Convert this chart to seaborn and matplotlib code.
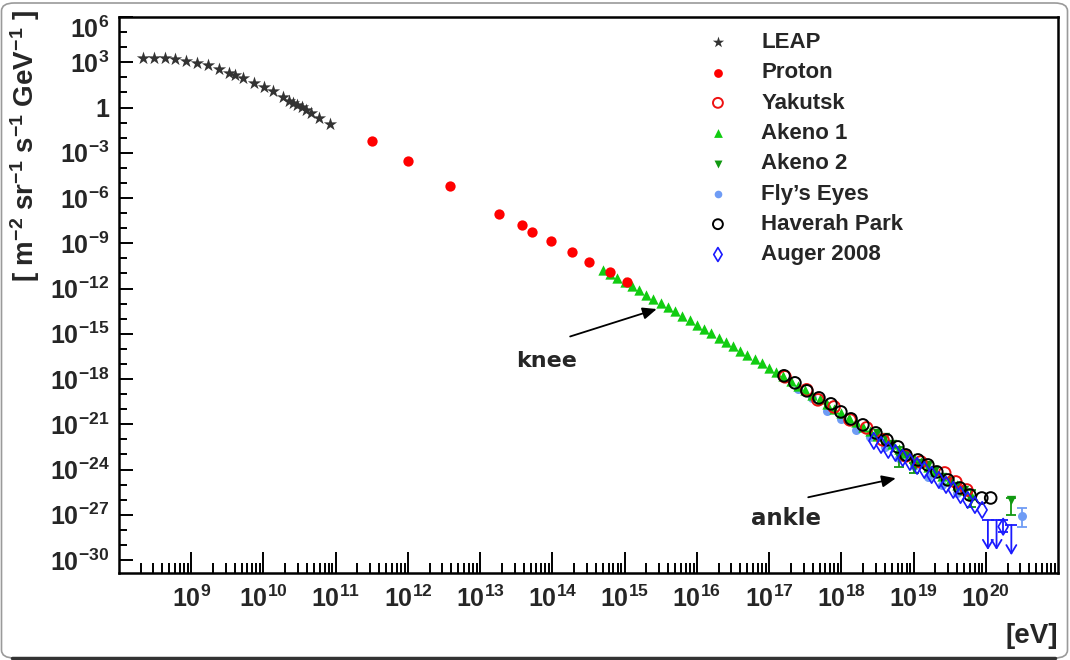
import matplotlib
matplotlib.use("Agg")
import matplotlib.pyplot as plt
import seaborn as sns
from matplotlib.ticker import FixedLocator, FixedFormatter, NullFormatter
from matplotlib.patches import FancyBboxPatch
from matplotlib.lines import Line2D

# ---------------- data (energy in eV, flux in m^-2 sr^-1 s^-1 GeV^-1) ----------------
leap_energy = [2.17e8, 3.04e8, 4.28e8, 5.93e8, 8.53e8, 1.21e9, 1.70e9, 2.41e9, 3.36e9,
               4.10e9, 5.24e9, 7.35e9, 1.01e10, 1.36e10, 1.87e10, 2.24e10, 2.58e10,
               2.95e10, 3.43e10, 3.94e10, 4.61e10, 5.82e10, 8.26e10]
leap_flux = [1950, 1980, 1960, 1760, 1300, 955, 673, 383, 198, 137, 86.9, 45.1, 23.4,
             11.9, 4.76, 2.88, 2.03, 1.40, 1.04, 0.728, 0.44, 0.214, 0.0857]

proton_energy = [3.18e11, 9.91e11, 3.85e12, 1.85e13, 3.74e13, 5.26e13, 9.42e13,
                 1.84e14, 3.20e14, 6.24e14, 1.07e15]
proton_flux = [5.73e-3, 2.70e-4, 5.92e-6, 9.14e-8, 1.70e-8, 5.83e-9, 1.33e-9,
               2.47e-10, 5.97e-11, 1.29e-11, 2.52e-12]

akeno1_energy = [5.01e14, 6.31e14, 7.94e14,
                 1.00e15, 1.26e15, 1.58e15, 2.00e15, 2.51e15, 3.16e15, 3.98e15, 5.01e15, 6.31e15, 7.94e15,
                 1.00e16, 1.26e16, 1.58e16, 2.00e16, 2.51e16, 3.16e16, 3.98e16, 5.01e16, 6.31e16, 7.94e16,
                 1.00e17, 1.26e17, 1.58e17, 2.00e17, 2.51e17, 3.16e17, 3.98e17, 5.01e17, 6.31e17, 7.94e17,
                 1.00e18, 1.26e18, 1.58e18, 2.00e18, 2.51e18, 3.16e18, 3.98e18, 5.01e18, 6.31e18, 7.94e18,
                 1.00e19, 1.26e19, 1.58e19, 2.00e19, 2.51e19, 3.16e19, 3.98e19, 5.01e19, 6.31e19]
akeno1_flux = [1.78e-11, 9.33e-12, 5.01e-12,
               2.63e-12, 1.41e-12, 7.41e-13, 3.98e-13, 2.09e-13, 1.12e-13, 5.75e-14, 3.02e-14, 1.55e-14, 7.94e-15,
               4.07e-15, 2.14e-15, 1.10e-15, 5.62e-16, 2.95e-16, 1.51e-16, 7.76e-17, 3.98e-17, 2.09e-17, 1.07e-17,
               5.50e-18, 2.88e-18, 1.48e-18, 7.41e-19, 3.63e-19, 1.82e-19, 9.12e-20, 4.47e-20, 2.24e-20, 1.10e-20,
               5.50e-21, 2.75e-21, 1.38e-21, 7.08e-22, 3.55e-22, 1.78e-22, 9.33e-23, 4.68e-23, 2.34e-23, 1.17e-23,
               6.03e-24, 3.02e-24, 1.51e-24, 7.59e-25, 3.80e-25, 1.91e-25, 9.55e-26, 4.47e-26, 2.00e-26]

haverah_energy = [1.61e17, 2.28e17, 3.34e17, 4.90e17, 7.18e17, 9.86e17, 1.36e18, 1.99e18,
                  3.01e18, 4.28e18, 6.07e18, 7.83e18, 1.15e19, 1.58e19, 2.10e19, 2.99e19,
                  4.38e19, 6.01e19, 8.81e19, 1.17e20]
haverah_flux = [1.63e-18, 5.57e-19, 1.64e-19, 5.62e-20, 2.25e-20, 6.62e-21, 2.28e-21, 9.10e-22,
                2.68e-22, 9.18e-23, 3.16e-23, 9.29e-24, 4.33e-24, 2.02e-24, 6.92e-25, 2.04e-25,
                6.00e-26, 2.06e-26, 1.30e-26, 1.30e-26]

yakutsk_energy = [1.66e17, 3.31e17, 4.75e17, 7.94e17, 1.32e18, 2.24e18, 3.77e18, 7.83e18,
                  1.26e19, 2.70e19, 3.85e19, 5.46e19]
yakutsk_flux = [1.40e-18, 1.91e-19, 4.15e-20, 1.41e-20, 1.95e-21, 5.75e-22, 9.20e-23, 8.0e-24,
                3.16e-24, 5.94e-25, 1.50e-25, 4.41e-26]

akeno2_energy = [3.16e18, 3.98e18, 5.01e18, 6.31e18, 7.94e18, 1.00e19, 1.26e19, 1.58e19,
                 2.00e19, 2.51e19, 3.16e19, 3.98e19, 5.01e19, 6.31e19, 2.24e20]
akeno2_flux = [2.69e-22, 1.45e-22, 5.01e-23, 6.92e-24, 9.33e-24, 1.29e-24, 2.75e-24, 2.00e-24,
               9.33e-25, 3.24e-25, 1.74e-25, 8.13e-26, 4.47e-26, 9.55e-27, 9.55e-27]
akeno2_err_energy = [6.31e18, 1.00e19, 6.31e19, 2.24e20]
akeno2_err_flux = [6.92e-24, 1.29e-24, 9.55e-27, 9.55e-27]
akeno2_err_low = [1.48e-24, 6.03e-25, 3.31e-27, 9.77e-28]
akeno2_err_high = [3.16e-23, 2.75e-24, 4.47e-26, 1.38e-26]

flyseye_energy = [2.51e17, 3.98e17, 6.31e17, 1.00e18, 1.58e18, 2.51e18, 3.98e18, 6.31e18,
                  1.00e19, 1.58e19, 2.51e19, 3.98e19, 3.21e20]
flyseye_flux = [2.24e-19, 5.75e-20, 7.76e-21, 2.29e-21, 4.27e-22, 1.45e-22, 3.16e-23, 5.89e-24,
                1.74e-24, 3.24e-25, 9.55e-26, 2.82e-26, 8.32e-28]
flyseye_err_energy = [3.21e20]
flyseye_err_flux = [8.32e-28]
flyseye_err_low = [1.58e-28]
flyseye_err_high = [2.82e-27]

auger_energy = [2.82e18, 3.55e18, 4.47e18, 5.62e18, 7.08e18, 8.91e18, 1.12e19, 1.41e19,
                1.78e19, 2.24e19, 2.82e19, 3.55e19, 4.47e19, 5.62e19, 7.08e19, 8.91e19, 1.74e20]
auger_flux = [7.94e-23, 4.27e-23, 2.00e-23, 1.26e-23, 5.89e-24, 3.16e-24, 1.74e-24, 9.33e-25,
              4.37e-25, 2.04e-25, 9.55e-26, 4.47e-26, 2.04e-26, 9.55e-27, 4.47e-27, 2.09e-27, 1.62e-28]
auger_err_energy = [1.74e20]
auger_err_flux = [1.62e-28]
auger_err_low = [7.59e-29]
auger_err_high = [4.47e-28]
auger_limit_energy = [1.07e20, 1.41e20, 2.26e20]
auger_limit_top = [4.47e-28, 4.47e-28, 2.1e-28]
auger_limit_bottom = [4.68e-30, 4.68e-30, 2.1e-30]

ytick_values = [1e6, 1e3, 1, 1e-3, 1e-6, 1e-9, 1e-12, 1e-15, 1e-18, 1e-21, 1e-24, 1e-27, 1e-30]
ytick_labels = [r'$10^{6}$', r'$10^{3}$', '1', r'$10^{-3}$', r'$10^{-6}$', r'$10^{-9}$',
                r'$10^{-12}$', r'$10^{-15}$', r'$10^{-18}$', r'$10^{-21}$', r'$10^{-24}$',
                r'$10^{-27}$', r'$10^{-30}$']
xtick_values = [1e9, 1e10, 1e11, 1e12, 1e13, 1e14, 1e15, 1e16, 1e17, 1e18, 1e19, 1e20]
xtick_labels = [r'$10^{9}$', r'$10^{10}$', r'$10^{11}$', r'$10^{12}$', r'$10^{13}$', r'$10^{14}$',
                r'$10^{15}$', r'$10^{16}$', r'$10^{17}$', r'$10^{18}$', r'$10^{19}$', r'$10^{20}$']

# ---------------- style ----------------
sns.set_theme(style="white")
plt.rcParams['font.family'] = ['Liberation Sans', 'DejaVu Sans']
plt.rcParams['font.weight'] = 'bold'
plt.rcParams['mathtext.fontset'] = 'custom'
plt.rcParams['mathtext.rm'] = 'Liberation Sans:bold'
plt.rcParams['mathtext.it'] = 'Liberation Sans:bold'
plt.rcParams['mathtext.bf'] = 'Liberation Sans:bold'
plt.rcParams['mathtext.sf'] = 'Liberation Sans:bold'

W, H = 1070, 660
fig = plt.figure(figsize=(W / 100, H / 100), dpi=100)
fig.patch.set_facecolor('white')
ax = fig.add_axes([119 / W, 1 - 573 / H, 939 / W, 556 / H])
ax.set_xscale('log')
ax.set_yscale('log')

# ---------------- series ----------------
sns.scatterplot(x=flyseye_energy, y=flyseye_flux, marker='o', s=42, color='#6f9cf5',
                linewidth=0, label="Fly\u2019s Eyes", ax=ax, zorder=3)
sns.scatterplot(x=akeno1_energy, y=akeno1_flux, marker='^', s=55, color='#11cc11',
                linewidth=0, label='Akeno 1', ax=ax, zorder=4)
sns.scatterplot(x=leap_energy, y=leap_flux, marker='*', s=100, color='#333333',
                linewidth=0, label='LEAP', ax=ax, zorder=4)
sns.scatterplot(x=proton_energy, y=proton_flux, marker='o', s=55, color='#ff0000',
                linewidth=0, label='Proton', ax=ax, zorder=5)
sns.scatterplot(x=akeno2_energy, y=akeno2_flux, marker='v', s=45, color='#119911',
                linewidth=0, label='Akeno 2', ax=ax, zorder=5)
sns.scatterplot(x=yakutsk_energy, y=yakutsk_flux, marker='o', s=70, facecolor='none',
                edgecolor='#ee1111', linewidth=1.4, label='Yakutsk', ax=ax, zorder=6)
sns.scatterplot(x=haverah_energy, y=haverah_flux, marker='o', s=70, facecolor='none',
                edgecolor='black', linewidth=1.4, label='Haverah Park', ax=ax, zorder=6)
sns.scatterplot(x=auger_energy, y=auger_flux, marker='d', s=70, facecolor='none',
                edgecolor='#1a1aff', linewidth=1.2, label='Auger 2008', ax=ax, zorder=7)

# error bars
def add_err(xs, ys, lo, hi, color):
    ax.errorbar(xs, ys, yerr=[[y - l for y, l in zip(ys, lo)], [h - y for y, h in zip(ys, hi)]],
                fmt='none', ecolor=color, elinewidth=1.3, capsize=3.5, capthick=1.3, zorder=5)

add_err(akeno2_err_energy, akeno2_err_flux, akeno2_err_low, akeno2_err_high, '#119911')
add_err(flyseye_err_energy, flyseye_err_flux, flyseye_err_low, flyseye_err_high, '#6f9cf5')
add_err(auger_err_energy, auger_err_flux, auger_err_low, auger_err_high, '#1a1aff')

# Auger upper limits
for e, top, bot in zip(auger_limit_energy, auger_limit_top, auger_limit_bottom):
    ax.annotate('', xy=(e, bot), xytext=(e, top),
                arrowprops=dict(arrowstyle='->,head_length=0.5,head_width=0.3',
                                color='#1a1aff', lw=1.3, shrinkA=0, shrinkB=0), zorder=7)
ax.scatter(auger_limit_energy, auger_limit_top, marker='_', s=80, color='#1a1aff',
           linewidths=1.3, zorder=7)

# ---------------- axes ----------------
ax.set_xlim(1e8, 1e21)
ax.set_ylim(10 ** -30.86, 1e6)
ax.yaxis.set_major_locator(FixedLocator(ytick_values))
ax.yaxis.set_major_formatter(FixedFormatter(ytick_labels))
ax.yaxis.set_minor_locator(FixedLocator([10.0 ** k for k in range(-30, 7)]))
ax.yaxis.set_minor_formatter(NullFormatter())
ax.xaxis.set_major_locator(FixedLocator(xtick_values))
ax.xaxis.set_major_formatter(FixedFormatter(xtick_labels))
ax.xaxis.set_minor_locator(FixedLocator([m * 10.0 ** k for k in range(8, 21) for m in range(2, 10)]))
ax.xaxis.set_minor_formatter(NullFormatter())

ax.tick_params(axis='both', which='both', direction='in', color='black', width=1.4,
               bottom=True, left=True, top=False, right=False)
ax.tick_params(axis='y', which='major', length=10, pad=7, labelsize=18)
ax.tick_params(axis='y', which='minor', length=6)
ax.tick_params(axis='x', which='major', length=15, pad=9, labelsize=18)
ax.tick_params(axis='x', which='minor', length=7.5)
for sp in ax.spines.values():
    sp.set_visible(True)
    sp.set_color('black')
    sp.set_linewidth(1.8)

# top y label hangs below the axis corner
for lbl in ax.get_yticklabels():
    if lbl.get_text() == r'$10^{6}$':
        lbl.set_verticalalignment('top')

ax.set_xlabel('')
ax.set_ylabel('')
fig.text(25 / W, 1 - 146 / H, r'[ m$^{-2}$ sr$^{-1}$ s$^{-1}$ GeV$^{-1}$ ]', rotation=90,
         ha='center', va='center', fontsize=20, fontweight='bold')
fig.text(1058 / W, 1 - 636 / H, '[eV]', ha='right', va='center', fontsize=20, fontweight='bold')

# annotations
ax.annotate('', xy=(10 ** 15.445, 10 ** -13.36), xytext=(10 ** 14.246, 10 ** -15.18),
            arrowprops=dict(arrowstyle='-|>,head_length=0.7,head_width=0.3', color='black',
                            lw=1.3, shrinkA=0, shrinkB=0), zorder=8)
ax.text(10 ** 13.914, 10 ** -16.79, 'knee', ha='center', va='center', fontsize=16,
        fontweight='bold', family='DejaVu Sans')
ax.annotate('', xy=(10 ** 18.755, 10 ** -24.58), xytext=(10 ** 17.542, 10 ** -25.84),
            arrowprops=dict(arrowstyle='-|>,head_length=0.7,head_width=0.3', color='black',
                            lw=1.3, shrinkA=0, shrinkB=0), zorder=8)
ax.text(10 ** 17.234, 10 ** -27.245, 'ankle', ha='center', va='center', fontsize=16.5,
        fontweight='bold', family='DejaVu Sans')

# legend
order = ['LEAP', 'Proton', 'Yakutsk', 'Akeno 1', 'Akeno 2', "Fly\u2019s Eyes", 'Haverah Park', 'Auger 2008']
handles, labels = ax.get_legend_handles_labels()
hmap = dict(zip(labels, handles))
leg = ax.legend([hmap[k] for k in order], order, loc='upper left', bbox_to_anchor=(0.626, 0.973),
                frameon=False, borderpad=0, borderaxespad=0, handlelength=1.0, handletextpad=1.45,
                labelspacing=0.42, markerscale=0.85, prop={'size': 16, 'weight': 'bold'})

# window-like border
fig.add_artist(FancyBboxPatch((1.5 / W, 2 / H), 1066 / W, 655 / H,
                              boxstyle='round,pad=0,rounding_size=0.012',
                              transform=fig.transFigure, facecolor='none',
                              edgecolor='#9a9a9a', linewidth=1.2))
fig.add_artist(Line2D([12 / W, 1055 / W], [2 / H, 2 / H], transform=fig.transFigure,
                      color='#333333', linewidth=2.5))

fig.savefig('out.png', dpi=100)
